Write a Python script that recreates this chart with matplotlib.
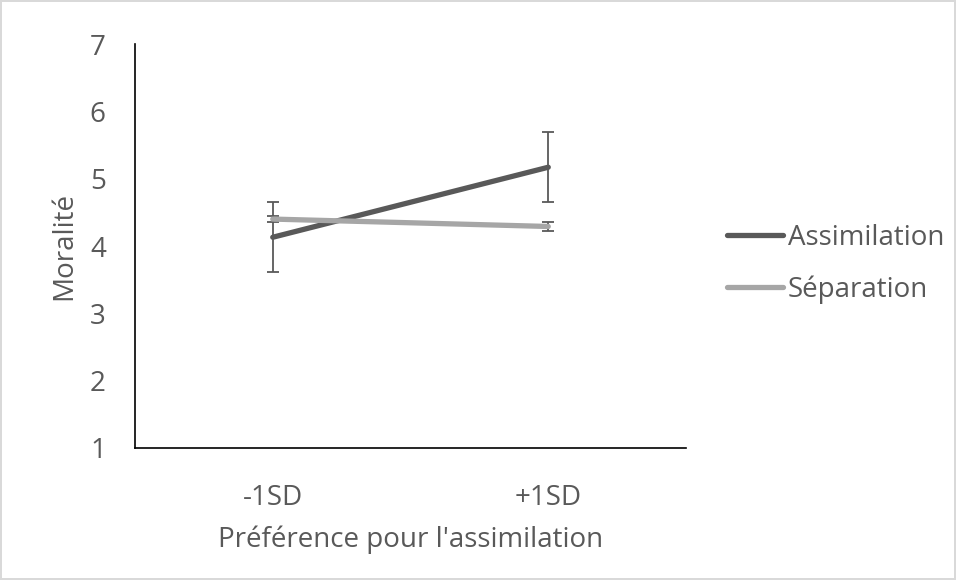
import matplotlib
matplotlib.use("Agg")
from matplotlib import pyplot as plt

# --data--
categories = ["-1SD", "+1SD"]
assimilation = [4.13, 5.17]
assimilation_err = [0.52, 0.52]
separation = [4.40, 4.29]
separation_err = [0.05, 0.06]
series_names = ["Assimilation", "Séparation"]

plt.rcParams['font.family'] = ['Open Sans', 'DejaVu Sans']
txt = "#595959"
fs = 20

fig = plt.figure(figsize=(9.56, 5.8), dpi=100)
fig.patch.set_edgecolor("#d9d9d9")
fig.patch.set_linewidth(1.5)
ax = fig.add_axes([0.1412, 0.2276, 0.5764, 0.6965])

x = list(range(len(categories)))
l1, = ax.plot(x, assimilation, color="#595959", lw=3.8, solid_capstyle="round", zorder=3)
ax.errorbar(x, assimilation, yerr=assimilation_err, fmt="none", ecolor="#595959",
            elinewidth=1.3, capsize=4.5, capthick=1.3, zorder=2)
l2, = ax.plot(x, separation, color="#a6a6a6", lw=3.8, solid_capstyle="round", zorder=4)
ax.errorbar(x, separation, yerr=separation_err, fmt="none", ecolor="#595959",
            elinewidth=1.3, capsize=4.5, capthick=1.3, zorder=2)

ax.set_xlim(-0.5, 1.5)
ax.set_ylim(1, 7)
ax.set_xticks(x)
ax.set_xticklabels(categories)
ax.set_yticks(range(1, 8))
ax.tick_params(length=0, labelsize=fs, colors=txt)
ax.tick_params(axis='y', pad=21)
ax.tick_params(axis='x', pad=26)
for s in ["top", "right"]:
    ax.spines[s].set_visible(False)
for s in ["left", "bottom"]:
    ax.spines[s].set_color("black")
    ax.spines[s].set_linewidth(1.2)

ax.set_xlabel("Préférence pour l'assimilation", fontsize=fs, color=txt, labelpad=10)
ax.set_ylabel("Moralité", fontsize=fs, color=txt, labelpad=8)

fig.legend([l1, l2], series_names, loc="center left", bbox_to_anchor=(727 / 956, 1 - 264 / 580),
           frameon=False, fontsize=fs, labelcolor=txt, handlelength=2.0, handletextpad=0.18,
           labelspacing=0.85, borderpad=0, borderaxespad=0)

fig.savefig("out.png", dpi=100)
